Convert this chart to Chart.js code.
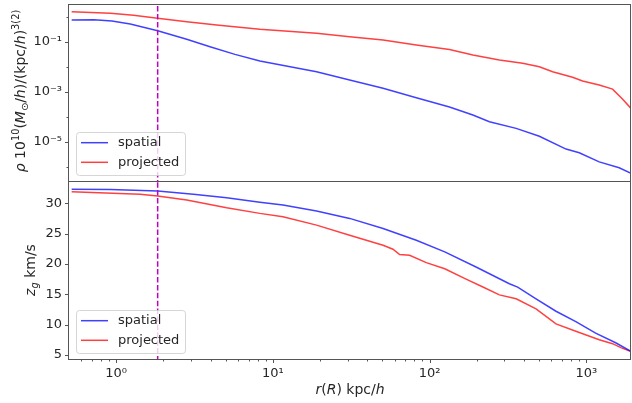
<!DOCTYPE html>
<html>
<head>
<meta charset="utf-8">
<script src="https://cdn.jsdelivr.net/npm/chart.js@4.4.1/dist/chart.umd.min.js"></script>
<style>
  html, body { margin: 0; padding: 0; background: #fff; }
  #wrap { position: relative; width: 632px; height: 403px; overflow: hidden; }
  #wrap canvas { position: absolute; left: 0; }
  #rhoChart { top: 0; }
  #zChart { top: 175px; }
</style>
</head>
<body>
<div id="wrap">
  <canvas id="zChart" width="632" height="228"></canvas>
  <canvas id="rhoChart" width="632" height="190"></canvas>
</div>
<script>
// ---- data ----
const rhoSpatialR = [0.52, 0.72, 0.94, 1.23, 1.84, 2.82, 3.97, 5.73, 8.26, 19.0, 30.9, 50.5, 82.3, 134, 189, 241, 357, 502, 743, 902, 1210, 1622, 1930];
const rhoSpatial = [0.76, 0.78, 0.69, 0.52, 0.28, 0.129, 0.065, 0.032, 0.0174, 0.0065, 0.0030, 0.0014, 5.9e-4, 2.5e-4, 1.2e-4, 6.5e-5, 3.5e-5, 1.7e-5, 5.2e-6, 3.7e-6, 1.6e-6, 9.3e-7, 5.6e-7];

const rhoProjectedR = [0.52, 0.92, 1.29, 1.84, 2.82, 4.38, 8.26, 19.0, 30.9, 50.5, 82.3, 134, 189, 279, 393, 502, 610, 818, 947, 1210, 1472, 1702, 1930];
const rhoProjected = [1.62, 1.41, 1.17, 0.89, 0.65, 0.48, 0.32, 0.224, 0.163, 0.12, 0.076, 0.05, 0.030, 0.019, 0.014, 0.0102, 0.0065, 0.0039, 0.00275, 0.0019, 0.0013, 5.2e-4, 2.2e-4];

const zSpatialR = [0.52, 0.92, 1.84, 3.11, 5.07, 8.26, 11.6, 19.0, 30.9, 50.5, 82.3, 125, 198, 323, 365, 478, 641, 858, 1148, 1540, 1930];
const zSpatial = [32.32, 32.26, 32.04, 31.49, 30.93, 30.17, 29.72, 28.72, 27.51, 25.85, 23.91, 22.0, 19.5, 16.73, 16.17, 14.25, 12.2, 10.5, 8.6, 7.0, 5.6];

const zProjectedR = [0.52, 1.42, 1.84, 2.82, 5.07, 8.26, 11.6, 19.0, 30.9, 50.5, 58.4, 64.4, 74.6, 95.3, 125, 171, 219, 279, 357, 478, 641, 858, 1210, 1472, 1663, 1930];
const zProjected = [31.92, 31.49, 31.21, 30.55, 29.27, 28.34, 27.78, 26.40, 24.74, 23.08, 22.42, 21.54, 21.43, 20.22, 19.2, 17.5, 16.2, 14.9, 14.25, 12.6, 10.1, 8.9, 7.5, 6.85, 6.2, 5.56];

const cutRadius = 1.84;

// ---- ticks ----
const rMajor = [1, 10, 100, 1000];
const rMajorLabels = ["10⁰", "10¹", "10²", "10³"];
const rMinor = [0.6, 0.7, 0.8, 0.9, 2, 3, 4, 5, 6, 7, 8, 9, 20, 30, 40, 50, 60, 70, 80, 90, 200, 300, 400, 500, 600, 700, 800, 900];
const rhoMajor = [1e-1, 1e-3, 1e-5];
const rhoMajorLabels = ["10⁻¹", "10⁻³", "10⁻⁵"];
const rhoMinor = [1, 1e-2, 1e-4, 1e-6];
const zMajor = [5, 10, 15, 20, 25, 30];

const FONT = "DejaVu Sans";
const TXT = "#262626";
const SPINE = "#555";
const BLUE = "rgba(0,0,255,0.75)";
const RED = "rgba(255,0,0,0.75)";
const MAGENTA = "#bf00bf";

function pts(xs, ys) {
  return xs.map((x, i) => ({ x, y: ys[i] }));
}

function buildTicks(major, minor) {
  return major.map((v) => ({ value: v, major: true }))
    .concat(minor.map((v) => ({ value: v, major: false })))
    .sort((a, b) => a.value - b.value);
}

function labeler(major, labels) {
  return (value) => {
    const i = major.indexOf(value);
    return i >= 0 ? labels[i] : "";
  };
}

// scales must not push the plot area around: the frame is fixed
function noPad(sc) {
  sc.paddingTop = 0;
  sc.paddingBottom = 0;
  sc.paddingLeft = 0;
  sc.paddingRight = 0;
}

// ---- mixed-font text (math-like labels) ----
function drawRuns(ctx, runs, size) {
  const fontOf = (r) => {
    const s = r.sup || r.sub ? size * 0.7 : size;
    return (r.it ? "italic " : "") + s + "px '" + FONT + "'";
  };
  let total = 0;
  runs.forEach((r) => {
    ctx.font = fontOf(r);
    r.w = ctx.measureText(r.t).width;
    total += r.w;
  });
  let x = -total / 2;
  ctx.textAlign = "left";
  ctx.textBaseline = "alphabetic";
  ctx.fillStyle = TXT;
  runs.forEach((r) => {
    ctx.font = fontOf(r);
    const dy = r.sup ? -size * 0.42 : r.sub ? size * 0.22 : 0;
    ctx.fillText(r.t, x, dy);
    x += r.w;
  });
}

function drawFrameAndTicks(chart) {
  const { ctx, chartArea: a } = chart;
  ctx.save();
  ctx.strokeStyle = SPINE;
  ctx.lineWidth = 1;
  ctx.strokeRect(Math.round(a.left) - 0.5, Math.round(a.top) + 0.5, Math.round(a.right - a.left), Math.round(a.bottom - a.top));
  Object.values(chart.scales).forEach((sc) => {
    if (!sc.options.display) return;
    sc.ticks.forEach((t) => {
      const p = Math.round(sc.getPixelForValue(t.value)) + 0.5;
      const len = t.major ? 4 : 2.5;
      ctx.beginPath();
      if (sc.axis === "x") {
        if (p < a.left || p > a.right) return;
        ctx.moveTo(p, a.bottom);
        ctx.lineTo(p, a.bottom + len);
      } else {
        if (p < a.top || p > a.bottom) return;
        ctx.moveTo(a.left, p);
        ctx.lineTo(a.left - len, p);
      }
      ctx.stroke();
    });
  });
  ctx.restore();
}

function drawLegend(chart) {
  const { ctx, chartArea: a } = chart;
  const x0 = a.left + 7, y0 = a.bottom - 49, w = 109, h = 43;
  ctx.save();
  ctx.beginPath();
  ctx.roundRect(x0 + 0.5, y0 + 0.5, w, h, 3);
  ctx.fillStyle = "rgba(255,255,255,0.8)";
  ctx.fill();
  ctx.strokeStyle = "rgba(204,204,204,0.8)";
  ctx.lineWidth = 1;
  ctx.stroke();
  const rows = chart.data.datasets.filter((d) => d.label);
  rows.forEach((d, i) => {
    const y = y0 + 10.7 + i * 19.6;
    ctx.beginPath();
    ctx.strokeStyle = d.borderColor;
    ctx.lineWidth = 1.5;
    ctx.moveTo(x0 + 5, y);
    ctx.lineTo(x0 + 32, y);
    ctx.stroke();
    ctx.fillStyle = TXT;
    ctx.font = "13px '" + FONT + "'";
    ctx.textAlign = "left";
    ctx.textBaseline = "middle";
    ctx.fillText(d.label, x0 + 42, y);
  });
  ctx.restore();
}

const decorations = {
  id: "decorations",
  afterDraw(chart) {
    drawFrameAndTicks(chart);
    drawLegend(chart);
    const ctx = chart.ctx;
    (chart.options.plugins.decorations.titles || []).forEach((tt) => {
      ctx.save();
      ctx.translate(tt.x, tt.y);
      if (tt.rot) ctx.rotate(-Math.PI / 2);
      drawRuns(ctx, tt.runs, tt.size);
      ctx.restore();
    });
  },
};

function lineSet(label, data, color) {
  return {
    label, data, borderColor: color, backgroundColor: color,
    borderWidth: 1.5, pointRadius: 0, tension: 0, order: 1,
  };
}

function cutSet(lo, hi) {
  return {
    label: "", data: [{ x: cutRadius, y: lo }, { x: cutRadius, y: hi }],
    borderColor: MAGENTA, borderWidth: 1.5, borderDash: [5.5, 2.4],
    pointRadius: 0, order: 0,
  };
}

const xScale = (show) => ({
  type: "logarithmic",
  display: show,
  min: 0.5,
  max: 1930,
  afterBuildTicks: (sc) => { sc.ticks = buildTicks(rMajor, rMinor); },
  afterFit: (sc) => { noPad(sc); if (show) sc.height = 44; },
  grid: { display: false, drawTicks: false },
  border: { display: false },
  ticks: {
    autoSkip: false, maxRotation: 0, padding: 7, color: TXT,
    font: { family: FONT, size: 13 },
    callback: labeler(rMajor, rMajorLabels),
  },
});

const common = {
  responsive: false,
  animation: false,
  devicePixelRatio: 1,
  events: [],
};

// ---- top: density ----
new Chart(document.getElementById("rhoChart"), {
  type: "line",
  data: {
    datasets: [
      cutSet(1e-8, 100),
      lineSet("spatial", pts(rhoSpatialR, rhoSpatial), BLUE),
      lineSet("projected", pts(rhoProjectedR, rhoProjected), RED),
    ],
  },
  options: {
    ...common,
    layout: { padding: { top: 4, bottom: 9, left: 0, right: 1 } },
    scales: {
      x: xScale(false),
      y: {
        type: "logarithmic",
        min: 2.75e-7,
        max: 3.31,
        afterBuildTicks: (sc) => { sc.ticks = buildTicks(rhoMajor, rhoMinor); },
        afterFit: (sc) => { noPad(sc); sc.width = 69; },
        grid: { display: false, drawTicks: false },
        border: { display: false },
        ticks: {
          autoSkip: false, padding: 7, color: TXT,
          font: { family: FONT, size: 13 },
          callback: labeler(rhoMajor, rhoMajorLabels),
        },
      },
    },
    plugins: {
      legend: { display: false },
      tooltip: { enabled: false },
      decorations: {
        titles: [{
          x: 25, y: 91, rot: true, size: 14,
          runs: [
            { t: "ρ", it: true }, { t: " 10" }, { t: "10", sup: true }, { t: "(" },
            { t: "M", it: true }, { t: "⊙", sub: true }, { t: "/" }, { t: "h", it: true },
            { t: ")/(kpc/" }, { t: "h", it: true }, { t: ")" }, { t: "3(2)", sup: true },
          ],
        }],
      },
    },
  },
  plugins: [decorations],
});

// ---- bottom: z_g ----
new Chart(document.getElementById("zChart"), {
  type: "line",
  data: {
    datasets: [
      cutSet(0, 40),
      lineSet("spatial", pts(zSpatialR, zSpatial), BLUE),
      lineSet("projected", pts(zProjectedR, zProjected), RED),
    ],
  },
  options: {
    ...common,
    layout: { padding: { top: 6, bottom: 0, left: 0, right: 1 } },
    scales: {
      x: xScale(true),
      y: {
        type: "linear",
        min: 4.32,
        max: 33.68,
        afterBuildTicks: (sc) => { sc.ticks = zMajor.map((v) => ({ value: v, major: true })); },
        afterFit: (sc) => { noPad(sc); sc.width = 69; },
        grid: { display: false, drawTicks: false },
        border: { display: false },
        ticks: {
          autoSkip: false, padding: 7, color: TXT,
          font: { family: FONT, size: 13 },
          callback: (v) => String(v),
        },
      },
    },
    plugins: {
      legend: { display: false },
      tooltip: { enabled: false },
      decorations: {
        titles: [
          { x: 35, y: 95, rot: true, size: 14, runs: [{ t: "z", it: true }, { t: "g", it: true, sub: true }, { t: " km/s" }] },
          { x: 350, y: 219, rot: false, size: 14, runs: [{ t: "r", it: true }, { t: "(" }, { t: "R", it: true }, { t: ")" }, { t: " kpc/" }, { t: "h", it: true }] },
        ],
      },
    },
  },
  plugins: [decorations],
});
</script>
</body>
</html>
